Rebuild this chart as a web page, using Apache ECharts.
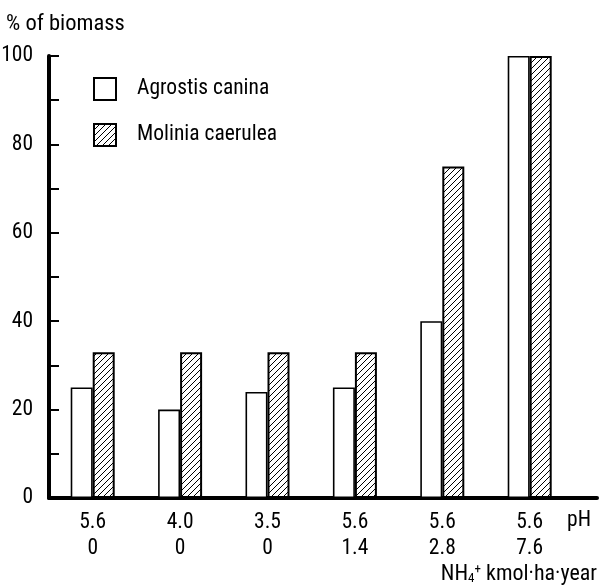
<!DOCTYPE html>
<html><head><meta charset="utf-8">
<script src="https://cdn.jsdelivr.net/npm/echarts@6/dist/echarts.min.js"></script>
<style>html,body{margin:0;padding:0;background:#fff}#c{width:599px;height:588px}</style>
</head><body><div id="c"></div>
<script>
const phLabels = ['5.6','4.0','3.5','5.6','5.6','5.6'];
const nh4Labels = ['0','0','0','1.4','2.8','7.6'];
const agrostis = [25,20,24,25,40,100];
const molinia = [33,33,33,33,75,100];
const seriesNames = ['Agrostis canina','Molinia caerulea'];

const FONT = '"Roboto Condensed","DejaVu Sans Condensed",sans-serif';

function hatch(){
  const s = 6;
  const c = document.createElement('canvas');
  c.width = s; c.height = s;
  const g = c.getContext('2d');
  g.fillStyle = '#fff'; g.fillRect(0,0,s,s);
  g.strokeStyle = '#000'; g.lineWidth = 1;
  g.beginPath();
  g.moveTo(-1, s+1); g.lineTo(s+1, -1);
  g.moveTo(-1, 1); g.lineTo(1, -1);
  g.moveTo(s-1, s+1); g.lineTo(s+1, s-1);
  g.stroke();
  return c;
}

const chart = echarts.init(document.getElementById('c'), null, {renderer:'canvas'});
chart.setOption({
  backgroundColor: '#fff',
  animation: false,
  title: {text: '% of biomass', left: 6, top: 13, padding: 0, textStyle:{fontFamily: FONT, fontSize: 22.5, fontWeight: 'normal', color:'#000'}},
  legend: {
    orient: 'vertical', left: 93, top: 77, padding: 0, itemGap: 22,
    itemWidth: 22, itemHeight: 22, icon: 'rect',
    textStyle: {fontFamily: FONT, fontSize: 21.5, color: '#000', padding: [0,0,0,16]},
    data: seriesNames
  },
  grid: {left: 49, right: 2, top: 56, bottom: 90, outerBoundsMode: 'none', containLabel: false},
  xAxis: {
    type: 'value', min: 0, max: 6.27, interval: 0.5,
    axisLine: {show: true, lineStyle: {color: '#000', width: 4}},
    axisTick: {show: false}, splitLine: {show: false},
    axisLabel: {
      margin: 12, lineHeight: 26, fontFamily: FONT, fontSize: 21.5, color: '#000',
      showMinLabel: true, showMaxLabel: true,
      formatter: function(v){
        const i = v - 0.5;
        if (Number.isInteger(i) && i >= 0 && i < phLabels.length) return phLabels[i] + '\n' + nh4Labels[i];
        return '';
      }
    }
  },
  yAxis: {
    type: 'value', min: 0, max: 100, interval: 10,
    axisLine: {show: true, lineStyle: {color: '#000', width: 4}},
    axisTick: {show: true, inside: true, length: 10, lineStyle: {color:'#000', width: 2}},
    splitLine: {show: false},
    axisLabel: {margin: 16, fontFamily: FONT, fontSize: 21.5, color: '#000',
      formatter: function(v){ return v % 20 === 0 ? String(v) : ''; }}
  },
  graphic: [
    {type: 'text', right: 8, top: 510, style: {text: 'pH', font: '21.5px ' + FONT, fill: '#000'}},
    {type: 'text', right: 2, top: 563, style: {
      text: 'NH{sub|4}{sup|+} kmol·ha·year', font: '22px ' + FONT, fill: '#000',
      rich: {sub: {fontSize: 13, fontFamily: FONT, verticalAlign: 'bottom', padding:[8,0,0,0]}, sup: {fontSize: 13, fontFamily: FONT, padding:[0,0,8,0]}}
    }}
  ],
  series: [
    {name: seriesNames[0], type: 'bar', barWidth: 22, barGap: 0,
     data: agrostis.map((v,i) => [i + 0.5, v]),
     itemStyle: {color: '#fff', borderColor: '#000', borderWidth: 1.6}},
    {name: seriesNames[1], type: 'bar', barWidth: 22, barGap: 0,
     data: molinia.map((v,i) => [i + 0.5, v]),
     itemStyle: {color: {image: hatch(), repeat: 'repeat'}, borderColor: '#000', borderWidth: 2}}
  ]
});
</script></body></html>
